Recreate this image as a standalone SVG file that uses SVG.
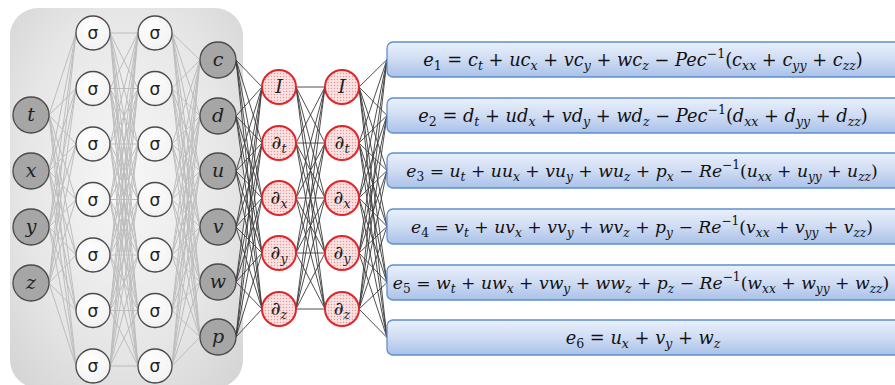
<svg xmlns="http://www.w3.org/2000/svg" width="895" height="385" viewBox="0 0 895 385">
<defs>
<radialGradient id="bg" cx="0.5" cy="0.45" r="0.75">
<stop offset="0" stop-color="#f7f7f7"/>
<stop offset="0.6" stop-color="#e6e6e6"/>
<stop offset="1" stop-color="#d2d2d2"/>
</radialGradient>
<radialGradient id="wn" cx="0.4" cy="0.35" r="0.7">
<stop offset="0" stop-color="#ffffff"/>
<stop offset="1" stop-color="#f1f1f1"/>
</radialGradient>
<linearGradient id="bx" x1="0" y1="0" x2="0" y2="1">
<stop offset="0" stop-color="#e9f0fb"/>
<stop offset="0.5" stop-color="#cfdcf3"/>
<stop offset="1" stop-color="#a9c1e9"/>
</linearGradient>
<pattern id="dots" width="3" height="3" patternUnits="userSpaceOnUse">
<rect width="3" height="3" fill="#fbe3e3"/>
<circle cx="1.5" cy="1.5" r="0.75" fill="#e79a9a"/>
</pattern>
</defs>
<style>
.lg{fill:none;stroke:#bdbdbd;stroke-width:1}
.dk{fill:none;stroke:#3a3a3a;stroke-width:0.9}
.gn circle{fill:#a6a6a6;stroke:#4a4a4a;stroke-width:1.3}
.sn circle{fill:url(#wn);stroke:#4a4a4a;stroke-width:1.3}
.rn circle{fill:url(#dots);stroke:#e1262a;stroke-width:2}
.box rect{fill:url(#bx);stroke:#5f8fcf;stroke-width:1.3}
.lv{font-family:"DejaVu Serif","Liberation Serif",serif;font-style:italic;font-size:19px;fill:#222;text-anchor:middle}
.sg{font-family:"DejaVu Sans","Liberation Sans",sans-serif;font-size:17px;fill:#222;text-anchor:middle}
.eq{font-family:"DejaVu Serif","Liberation Serif",serif;font-size:17.8px;fill:#111;text-anchor:middle}
.eq.t{font-size:17.2px}
.i{font-style:italic}
.b{font-style:italic;font-size:12.5px}
.n{font-size:12.5px}
.t .b,.t .n{font-size:12.2px}
</style>
<rect x="10" y="8" width="233" height="380" rx="28" fill="url(#bg)"/>
<g id="connectors">
<path class="lg" d="M49 115L76 33M49 115L76 88.5M49 115L76 144M49 115L76 199.5M49 115L76 255M49 115L76 310.5M49 115L76 366M49 171L76 33M49 171L76 88.5M49 171L76 144M49 171L76 199.5M49 171L76 255M49 171L76 310.5M49 171L76 366M49 227L76 33M49 227L76 88.5M49 227L76 144M49 227L76 199.5M49 227L76 255M49 227L76 310.5M49 227L76 366M49 283L76 33M49 283L76 88.5M49 283L76 144M49 283L76 199.5M49 283L76 255M49 283L76 310.5M49 283L76 366"/>
<path class="lg" d="M110 33L138 33M110 33L138 88.5M110 33L138 144M110 33L138 199.5M110 33L138 255M110 33L138 310.5M110 33L138 366M110 88.5L138 33M110 88.5L138 88.5M110 88.5L138 144M110 88.5L138 199.5M110 88.5L138 255M110 88.5L138 310.5M110 88.5L138 366M110 144L138 33M110 144L138 88.5M110 144L138 144M110 144L138 199.5M110 144L138 255M110 144L138 310.5M110 144L138 366M110 199.5L138 33M110 199.5L138 88.5M110 199.5L138 144M110 199.5L138 199.5M110 199.5L138 255M110 199.5L138 310.5M110 199.5L138 366M110 255L138 33M110 255L138 88.5M110 255L138 144M110 255L138 199.5M110 255L138 255M110 255L138 310.5M110 255L138 366M110 310.5L138 33M110 310.5L138 88.5M110 310.5L138 144M110 310.5L138 199.5M110 310.5L138 255M110 310.5L138 310.5M110 310.5L138 366M110 366L138 33M110 366L138 88.5M110 366L138 144M110 366L138 199.5M110 366L138 255M110 366L138 310.5M110 366L138 366"/>
<path class="lg" d="M172 33L200 60M172 33L200 116M172 33L200 171M172 33L200 227M172 33L200 282M172 33L200 337M172 88.5L200 60M172 88.5L200 116M172 88.5L200 171M172 88.5L200 227M172 88.5L200 282M172 88.5L200 337M172 144L200 60M172 144L200 116M172 144L200 171M172 144L200 227M172 144L200 282M172 144L200 337M172 199.5L200 60M172 199.5L200 116M172 199.5L200 171M172 199.5L200 227M172 199.5L200 282M172 199.5L200 337M172 255L200 60M172 255L200 116M172 255L200 171M172 255L200 227M172 255L200 282M172 255L200 337M172 310.5L200 60M172 310.5L200 116M172 310.5L200 171M172 310.5L200 227M172 310.5L200 282M172 310.5L200 337M172 366L200 60M172 366L200 116M172 366L200 171M172 366L200 227M172 366L200 282M172 366L200 337"/>
<path class="dk" d="M236 60L262 87M236 60L262 143M236 60L262 198M236 60L262 253M236 60L262 309M236 116L262 87M236 116L262 143M236 116L262 198M236 116L262 253M236 116L262 309M236 171L262 87M236 171L262 143M236 171L262 198M236 171L262 253M236 171L262 309M236 227L262 87M236 227L262 143M236 227L262 198M236 227L262 253M236 227L262 309M236 282L262 87M236 282L262 143M236 282L262 198M236 282L262 253M236 282L262 309M236 337L262 87M236 337L262 143M236 337L262 198M236 337L262 253M236 337L262 309"/>
<path class="dk" d="M296 87L325 87M296 87L325 143M296 87L325 198M296 87L325 253M296 87L325 309M296 143L325 87M296 143L325 143M296 143L325 198M296 143L325 253M296 143L325 309M296 198L325 87M296 198L325 143M296 198L325 198M296 198L325 253M296 198L325 309M296 253L325 87M296 253L325 143M296 253L325 198M296 253L325 253M296 253L325 309M296 309L325 87M296 309L325 143M296 309L325 198M296 309L325 253M296 309L325 309"/>
<path class="dk" d="M359 87L387 59.5M359 87L387 115.5M359 87L387 170.5M359 87L387 226.5M359 87L387 282.5M359 87L387 337.5M359 143L387 59.5M359 143L387 115.5M359 143L387 170.5M359 143L387 226.5M359 143L387 282.5M359 143L387 337.5M359 198L387 59.5M359 198L387 115.5M359 198L387 170.5M359 198L387 226.5M359 198L387 282.5M359 198L387 337.5M359 253L387 59.5M359 253L387 115.5M359 253L387 170.5M359 253L387 226.5M359 253L387 282.5M359 253L387 337.5M359 309L387 59.5M359 309L387 115.5M359 309L387 170.5M359 309L387 226.5M359 309L387 282.5M359 309L387 337.5"/>
</g>
<g id="in-t" class="gn"><circle cx="31" cy="115" r="18"/><text class="lv" x="31" y="121">t</text></g>
<g id="in-x" class="gn"><circle cx="31" cy="171" r="18"/><text class="lv" x="31" y="177">x</text></g>
<g id="in-y" class="gn"><circle cx="31" cy="227" r="18"/><text class="lv" x="31" y="233">y</text></g>
<g id="in-z" class="gn"><circle cx="31" cy="283" r="18"/><text class="lv" x="31" y="289">z</text></g>
<g id="h1-1" class="sn"><circle cx="93" cy="33" r="17"/><text class="sg" x="93" y="39">σ</text></g>
<g id="h1-2" class="sn"><circle cx="93" cy="88.5" r="17"/><text class="sg" x="93" y="94.5">σ</text></g>
<g id="h1-3" class="sn"><circle cx="93" cy="144" r="17"/><text class="sg" x="93" y="150">σ</text></g>
<g id="h1-4" class="sn"><circle cx="93" cy="199.5" r="17"/><text class="sg" x="93" y="205.5">σ</text></g>
<g id="h1-5" class="sn"><circle cx="93" cy="255" r="17"/><text class="sg" x="93" y="261">σ</text></g>
<g id="h1-6" class="sn"><circle cx="93" cy="310.5" r="17"/><text class="sg" x="93" y="316.5">σ</text></g>
<g id="h1-7" class="sn"><circle cx="93" cy="366" r="17"/><text class="sg" x="93" y="372">σ</text></g>
<g id="h2-1" class="sn"><circle cx="155" cy="33" r="17"/><text class="sg" x="155" y="39">σ</text></g>
<g id="h2-2" class="sn"><circle cx="155" cy="88.5" r="17"/><text class="sg" x="155" y="94.5">σ</text></g>
<g id="h2-3" class="sn"><circle cx="155" cy="144" r="17"/><text class="sg" x="155" y="150">σ</text></g>
<g id="h2-4" class="sn"><circle cx="155" cy="199.5" r="17"/><text class="sg" x="155" y="205.5">σ</text></g>
<g id="h2-5" class="sn"><circle cx="155" cy="255" r="17"/><text class="sg" x="155" y="261">σ</text></g>
<g id="h2-6" class="sn"><circle cx="155" cy="310.5" r="17"/><text class="sg" x="155" y="316.5">σ</text></g>
<g id="h2-7" class="sn"><circle cx="155" cy="366" r="17"/><text class="sg" x="155" y="372">σ</text></g>
<g id="out-c" class="gn"><circle cx="218" cy="60" r="18"/><text class="lv" x="218" y="66">c</text></g>
<g id="out-d" class="gn"><circle cx="218" cy="116" r="18"/><text class="lv" x="218" y="122">d</text></g>
<g id="out-u" class="gn"><circle cx="218" cy="171" r="18"/><text class="lv" x="218" y="177">u</text></g>
<g id="out-v" class="gn"><circle cx="218" cy="227" r="18"/><text class="lv" x="218" y="233">v</text></g>
<g id="out-w" class="gn"><circle cx="218" cy="282" r="18"/><text class="lv" x="218" y="288">w</text></g>
<g id="out-p" class="gn"><circle cx="218" cy="337" r="18"/><text class="lv" x="218" y="343">p</text></g>
<g id="d1-I" class="rn"><circle cx="279" cy="87" r="17"/><text class="lv" x="279" y="93">I</text></g>
<g id="d1-t" class="rn"><circle cx="279" cy="143" r="17"/><text class="lv" x="279" y="149">∂<tspan class="b" dy="4">t</tspan></text></g>
<g id="d1-x" class="rn"><circle cx="279" cy="198" r="17"/><text class="lv" x="279" y="204">∂<tspan class="b" dy="4">x</tspan></text></g>
<g id="d1-y" class="rn"><circle cx="279" cy="253" r="17"/><text class="lv" x="279" y="259">∂<tspan class="b" dy="4">y</tspan></text></g>
<g id="d1-z" class="rn"><circle cx="279" cy="309" r="17"/><text class="lv" x="279" y="315">∂<tspan class="b" dy="4">z</tspan></text></g>
<g id="d2-I" class="rn"><circle cx="342" cy="87" r="17"/><text class="lv" x="342" y="93">I</text></g>
<g id="d2-t" class="rn"><circle cx="342" cy="143" r="17"/><text class="lv" x="342" y="149">∂<tspan class="b" dy="4">t</tspan></text></g>
<g id="d2-x" class="rn"><circle cx="342" cy="198" r="17"/><text class="lv" x="342" y="204">∂<tspan class="b" dy="4">x</tspan></text></g>
<g id="d2-y" class="rn"><circle cx="342" cy="253" r="17"/><text class="lv" x="342" y="259">∂<tspan class="b" dy="4">y</tspan></text></g>
<g id="d2-z" class="rn"><circle cx="342" cy="309" r="17"/><text class="lv" x="342" y="315">∂<tspan class="b" dy="4">z</tspan></text></g>
<g id="eq1" class="box"><rect x="387" y="42" width="520" height="35" rx="6"/><text class="eq" x="643" y="66"><tspan class="i">e</tspan><tspan class="n" dy="4">1</tspan><tspan dy="-4"> = </tspan><tspan class="i">c</tspan><tspan class="b" dy="4">t</tspan><tspan dy="-4"> + </tspan><tspan class="i">uc</tspan><tspan class="b" dy="4">x</tspan><tspan dy="-4"> + </tspan><tspan class="i">vc</tspan><tspan class="b" dy="4">y</tspan><tspan dy="-4"> + </tspan><tspan class="i">wc</tspan><tspan class="b" dy="4">z</tspan><tspan dy="-4"> − </tspan><tspan class="i">Pec</tspan><tspan class="n" dy="-8">−1</tspan><tspan dy="8">(</tspan><tspan class="i">c</tspan><tspan class="b" dy="4">xx</tspan><tspan dy="-4"> + </tspan><tspan class="i">c</tspan><tspan class="b" dy="4">yy</tspan><tspan dy="-4"> + </tspan><tspan class="i">c</tspan><tspan class="b" dy="4">zz</tspan><tspan dy="-4">)</tspan></text></g>
<g id="eq2" class="box"><rect x="387" y="98" width="520" height="35" rx="6"/><text class="eq" x="643" y="122"><tspan class="i">e</tspan><tspan class="n" dy="4">2</tspan><tspan dy="-4"> = </tspan><tspan class="i">d</tspan><tspan class="b" dy="4">t</tspan><tspan dy="-4"> + </tspan><tspan class="i">ud</tspan><tspan class="b" dy="4">x</tspan><tspan dy="-4"> + </tspan><tspan class="i">vd</tspan><tspan class="b" dy="4">y</tspan><tspan dy="-4"> + </tspan><tspan class="i">wd</tspan><tspan class="b" dy="4">z</tspan><tspan dy="-4"> − </tspan><tspan class="i">Pec</tspan><tspan class="n" dy="-8">−1</tspan><tspan dy="8">(</tspan><tspan class="i">d</tspan><tspan class="b" dy="4">xx</tspan><tspan dy="-4"> + </tspan><tspan class="i">d</tspan><tspan class="b" dy="4">yy</tspan><tspan dy="-4"> + </tspan><tspan class="i">d</tspan><tspan class="b" dy="4">zz</tspan><tspan dy="-4">)</tspan></text></g>
<g id="eq3" class="box"><rect x="387" y="153" width="520" height="35" rx="6"/><text class="eq t" x="642" y="177"><tspan class="i">e</tspan><tspan class="n" dy="4">3</tspan><tspan dy="-4"> = </tspan><tspan class="i">u</tspan><tspan class="b" dy="4">t</tspan><tspan dy="-4"> + </tspan><tspan class="i">uu</tspan><tspan class="b" dy="4">x</tspan><tspan dy="-4"> + </tspan><tspan class="i">vu</tspan><tspan class="b" dy="4">y</tspan><tspan dy="-4"> + </tspan><tspan class="i">wu</tspan><tspan class="b" dy="4">z</tspan><tspan dy="-4"> + </tspan><tspan class="i">p</tspan><tspan class="b" dy="4">x</tspan><tspan dy="-4"> − </tspan><tspan class="i">Re</tspan><tspan class="n" dy="-8">−1</tspan><tspan dy="8">(</tspan><tspan class="i">u</tspan><tspan class="b" dy="4">xx</tspan><tspan dy="-4"> + </tspan><tspan class="i">u</tspan><tspan class="b" dy="4">yy</tspan><tspan dy="-4"> + </tspan><tspan class="i">u</tspan><tspan class="b" dy="4">zz</tspan><tspan dy="-4">)</tspan></text></g>
<g id="eq4" class="box"><rect x="387" y="209" width="520" height="35" rx="6"/><text class="eq t" x="642" y="233"><tspan class="i">e</tspan><tspan class="n" dy="4">4</tspan><tspan dy="-4"> = </tspan><tspan class="i">v</tspan><tspan class="b" dy="4">t</tspan><tspan dy="-4"> + </tspan><tspan class="i">uv</tspan><tspan class="b" dy="4">x</tspan><tspan dy="-4"> + </tspan><tspan class="i">vv</tspan><tspan class="b" dy="4">y</tspan><tspan dy="-4"> + </tspan><tspan class="i">wv</tspan><tspan class="b" dy="4">z</tspan><tspan dy="-4"> + </tspan><tspan class="i">p</tspan><tspan class="b" dy="4">y</tspan><tspan dy="-4"> − </tspan><tspan class="i">Re</tspan><tspan class="n" dy="-8">−1</tspan><tspan dy="8">(</tspan><tspan class="i">v</tspan><tspan class="b" dy="4">xx</tspan><tspan dy="-4"> + </tspan><tspan class="i">v</tspan><tspan class="b" dy="4">yy</tspan><tspan dy="-4"> + </tspan><tspan class="i">v</tspan><tspan class="b" dy="4">zz</tspan><tspan dy="-4">)</tspan></text></g>
<g id="eq5" class="box"><rect x="387" y="265" width="520" height="35" rx="6"/><text class="eq t" x="641" y="289"><tspan class="i">e</tspan><tspan class="n" dy="4">5</tspan><tspan dy="-4"> = </tspan><tspan class="i">w</tspan><tspan class="b" dy="4">t</tspan><tspan dy="-4"> + </tspan><tspan class="i">uw</tspan><tspan class="b" dy="4">x</tspan><tspan dy="-4"> + </tspan><tspan class="i">vw</tspan><tspan class="b" dy="4">y</tspan><tspan dy="-4"> + </tspan><tspan class="i">ww</tspan><tspan class="b" dy="4">z</tspan><tspan dy="-4"> + </tspan><tspan class="i">p</tspan><tspan class="b" dy="4">z</tspan><tspan dy="-4"> − </tspan><tspan class="i">Re</tspan><tspan class="n" dy="-8">−1</tspan><tspan dy="8">(</tspan><tspan class="i">w</tspan><tspan class="b" dy="4">xx</tspan><tspan dy="-4"> + </tspan><tspan class="i">w</tspan><tspan class="b" dy="4">yy</tspan><tspan dy="-4"> + </tspan><tspan class="i">w</tspan><tspan class="b" dy="4">zz</tspan><tspan dy="-4">)</tspan></text></g>
<g id="eq6" class="box"><rect x="387" y="320" width="520" height="35" rx="6"/><text class="eq" x="643" y="344"><tspan class="i">e</tspan><tspan class="n" dy="4">6</tspan><tspan dy="-4"> = </tspan><tspan class="i">u</tspan><tspan class="b" dy="4">x</tspan><tspan dy="-4"> + </tspan><tspan class="i">v</tspan><tspan class="b" dy="4">y</tspan><tspan dy="-4"> + </tspan><tspan class="i">w</tspan><tspan class="b" dy="4">z</tspan></text></g>
</svg>
